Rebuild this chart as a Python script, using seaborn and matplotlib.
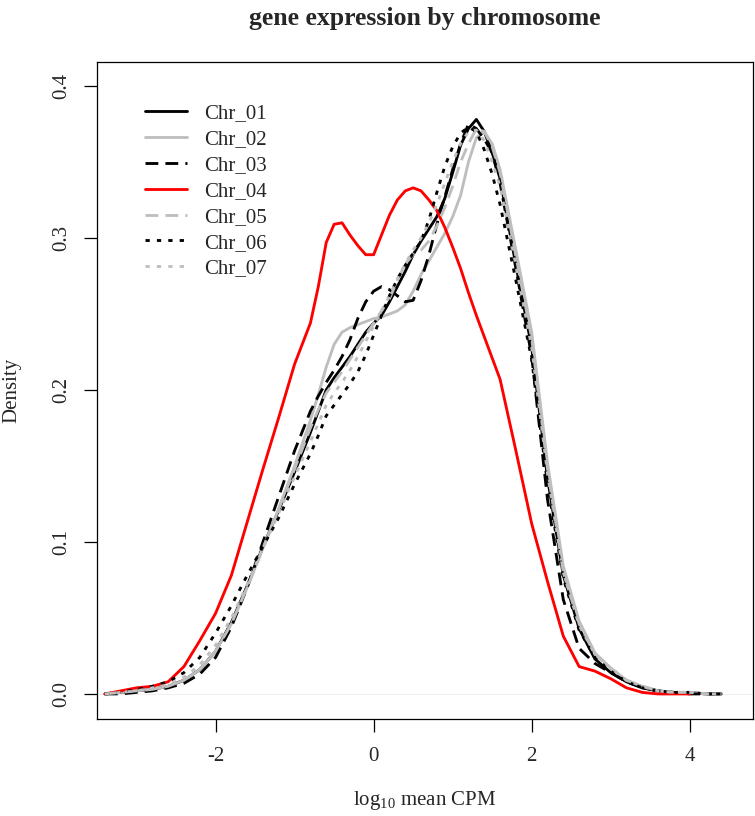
import numpy as np
import pandas as pd
import matplotlib
matplotlib.use("Agg")
import matplotlib.pyplot as plt
import seaborn as sns

nan = np.nan

X_GRID = [-3.4, -3.2, -3.0, -2.8, -2.6, -2.4, -2.2, -2.0, -1.8, -1.6, -1.4, -1.2, -1.0, -0.8,
          -0.7, -0.6, -0.5, -0.4, -0.3, -0.2, -0.1, 0.0, 0.1, 0.2, 0.3, 0.4,
          0.5, 0.6, 0.7, 0.8, 0.9, 1.0, 1.1, 1.2, 1.3, 1.4, 1.5, 1.6,
          1.8, 2.0, 2.2, 2.4, 2.6, 2.8, 3.0, 3.2, 3.4, 3.6, 3.8, 4.0, 4.2, 4.4]

CHR_01 = [0.000, 0.001, 0.002, 0.003, 0.005, 0.009, 0.016, 0.028, 0.047, 0.071, 0.097, 0.121, 0.146, 0.172,
          0.186, 0.200, 0.208, 0.215, 0.222, 0.230, 0.238, 0.244, 0.249, 0.258, 0.268, 0.278,
          0.289, 0.298, 0.306, 0.314, 0.326, 0.343, 0.361, 0.372, 0.378, 0.370, 0.356, 0.339,
          0.282, 0.228, 0.142, 0.078, 0.043, 0.023, 0.014, 0.008, 0.004, 0.002, 0.001, 0.001, 0.000, 0.000]
CHR_02 = [0.000, 0.001, 0.002, 0.003, 0.005, 0.009, 0.016, 0.028, 0.046, 0.070, 0.096, 0.122, 0.150, 0.180,
          0.197, 0.215, 0.230, 0.238, 0.241, 0.243, 0.245, 0.247, 0.248, 0.250, 0.252, 0.256,
          0.265, 0.276, 0.285, 0.294, 0.303, 0.314, 0.328, 0.350, 0.366, 0.370, 0.362, 0.345,
          0.292, 0.238, 0.152, 0.084, 0.048, 0.027, 0.017, 0.009, 0.005, 0.002, 0.001, 0.001, 0.000, 0.000]
CHR_03 = [0.000, 0.000, 0.001, 0.002, 0.004, 0.007, 0.013, 0.024, 0.044, 0.070, 0.100, 0.130, 0.160, 0.186,
          0.196, 0.205, 0.213, 0.222, 0.233, 0.247, 0.258, 0.265, 0.268, 0.266, 0.262, 0.258,
          0.259, 0.272, 0.289, 0.309, 0.327, 0.345, 0.362, 0.375, 0.372, 0.365, 0.356, 0.336,
          0.280, 0.222, 0.128, 0.062, 0.030, 0.020, 0.014, 0.008, 0.004, 0.002, 0.001, 0.000, 0.000, 0.000]
CHR_04 = [0.000, 0.002, 0.004, 0.005, 0.008, 0.018, 0.035, 0.053, 0.078, 0.113, 0.148, 0.182, 0.217, 0.244,
          0.268, 0.297, 0.309, 0.310, 0.302, 0.295, 0.289, 0.289, 0.302, 0.315, 0.325, 0.331,
          0.333, 0.331, 0.325, 0.318, 0.307, 0.294, 0.280, 0.264, 0.249, 0.235, 0.221, 0.207,
          0.160, 0.112, 0.074, 0.038, 0.018, 0.015, 0.010, 0.004, 0.001, 0.000, 0.000, 0.000, nan, nan]
CHR_05 = [0.000, 0.001, 0.002, 0.003, 0.005, 0.009, 0.016, 0.028, 0.046, 0.070, 0.096, 0.122, 0.148, 0.175,
          0.187, 0.198, 0.205, 0.212, 0.220, 0.228, 0.236, 0.244, 0.252, 0.260, 0.272, 0.283,
          0.289, 0.292, 0.298, 0.308, 0.320, 0.334, 0.350, 0.362, 0.372, 0.370, 0.360, 0.343,
          0.288, 0.234, 0.148, 0.080, 0.046, 0.026, 0.017, 0.009, 0.005, 0.002, 0.001, 0.001, 0.000, 0.000]
CHR_06 = [0.000, 0.001, 0.003, 0.005, 0.008, 0.014, 0.024, 0.040, 0.058, 0.078, 0.097, 0.116, 0.138, 0.158,
          0.170, 0.183, 0.190, 0.197, 0.204, 0.212, 0.223, 0.236, 0.249, 0.262, 0.273, 0.282,
          0.290, 0.298, 0.312, 0.330, 0.347, 0.360, 0.369, 0.373, 0.370, 0.358, 0.342, 0.322,
          0.272, 0.220, 0.138, 0.076, 0.042, 0.024, 0.015, 0.008, 0.004, 0.002, 0.001, 0.001, 0.000, 0.000]
CHR_07 = [0.000, 0.001, 0.002, 0.004, 0.006, 0.011, 0.019, 0.032, 0.050, 0.072, 0.096, 0.119, 0.143, 0.166,
          0.178, 0.190, 0.198, 0.205, 0.213, 0.222, 0.232, 0.242, 0.252, 0.262, 0.273, 0.283,
          0.292, 0.300, 0.310, 0.322, 0.336, 0.350, 0.362, 0.370, 0.371, 0.364, 0.350, 0.334,
          0.282, 0.228, 0.145, 0.080, 0.045, 0.026, 0.017, 0.009, 0.005, 0.002, 0.001, 0.001, 0.000, 0.000]

CHROMS = ["Chr_01", "Chr_02", "Chr_03", "Chr_04", "Chr_05", "Chr_06", "Chr_07"]
DENSITIES = [CHR_01, CHR_02, CHR_03, CHR_04, CHR_05, CHR_06, CHR_07]

# R-style colours / line types
COLORS = ["black", "#BEBEBE", "black", "#FF0000", "#BEBEBE", "black", "#BEBEBE"]
STYLES = ["-", "-", (0, (4.5, 2.5)), "-", (0, (4.5, 2.5)), (0, (1.5, 2.5)), (0, (1.5, 2.5))]

for d in DENSITIES:
    assert len(d) == len(X_GRID)

df = pd.concat(
    [pd.DataFrame({"x": X_GRID, "density": d, "chrom": c}) for c, d in zip(CHROMS, DENSITIES)],
    ignore_index=True,
).dropna()

sns.set_style("white")
plt.rcParams["font.family"] = ["Liberation Serif", "DejaVu Serif"]
plt.rcParams["mathtext.fontset"] = "custom"
plt.rcParams["mathtext.rm"] = "Liberation Serif"

fig = plt.figure(figsize=(7.55, 8.16), dpi=100)
ax = fig.add_axes([97 / 755, 1 - 719 / 816, 656 / 755, 657 / 816])

ax.axhline(0, color="#ececec", lw=0.6, zorder=0)

for chrom, col, ls in zip(CHROMS, COLORS, STYLES):
    sub = df[df["chrom"] == chrom]
    sns.lineplot(data=sub, x="x", y="density", color=col, linestyle=ls,
                 lw=2.05, label=chrom, ax=ax, estimator=None)

ax.set_xlim(-3.50, 4.80)
ax.set_ylim(-0.0165, 0.4158)
ax.set_xticks([-2, 0, 2, 4])
ax.set_xticklabels(["-2", "0", "2", "4"])
ax.set_yticks([0.0, 0.1, 0.2, 0.3, 0.4])
ax.set_yticklabels(["0.0", "0.1", "0.2", "0.3", "0.4"])

for side in ax.spines.values():
    side.set_visible(True)
    side.set_color("black")
    side.set_linewidth(0.9)

ax.tick_params(axis="both", direction="out", length=9.4, width=0.9,
               labelsize=15, color="black", left=True, bottom=True)
ax.tick_params(axis="x", pad=11)
ax.tick_params(axis="y", pad=9, labelrotation=90)
for lab in ax.get_yticklabels():
    lab.set_va("center")

ax.set_xlabel(r"log$_{\mathrm{10}}$ mean CPM", fontsize=15)
ax.set_ylabel("Density", fontsize=15)
ax.xaxis.set_label_coords(0.5, (719 - 800) / 657)
ax.xaxis.label.set_va("center")
ax.yaxis.set_label_coords((12 - 97) / 656, 0.5)
ax.yaxis.label.set_va("center")

fig.text(425 / 755, 1 - 25 / 816, "gene expression by chromosome",
         ha="center", va="baseline", fontsize=18.5, fontweight="bold")

ax.legend(loc="upper left", bbox_to_anchor=(48 / 656, (719 - 104) / 657),
          frameon=False, fontsize=15, borderpad=0, borderaxespad=0,
          handlelength=2.0, handletextpad=0.85, labelspacing=0.3)

fig.savefig("out.png", dpi=100)
plt.close(fig)
